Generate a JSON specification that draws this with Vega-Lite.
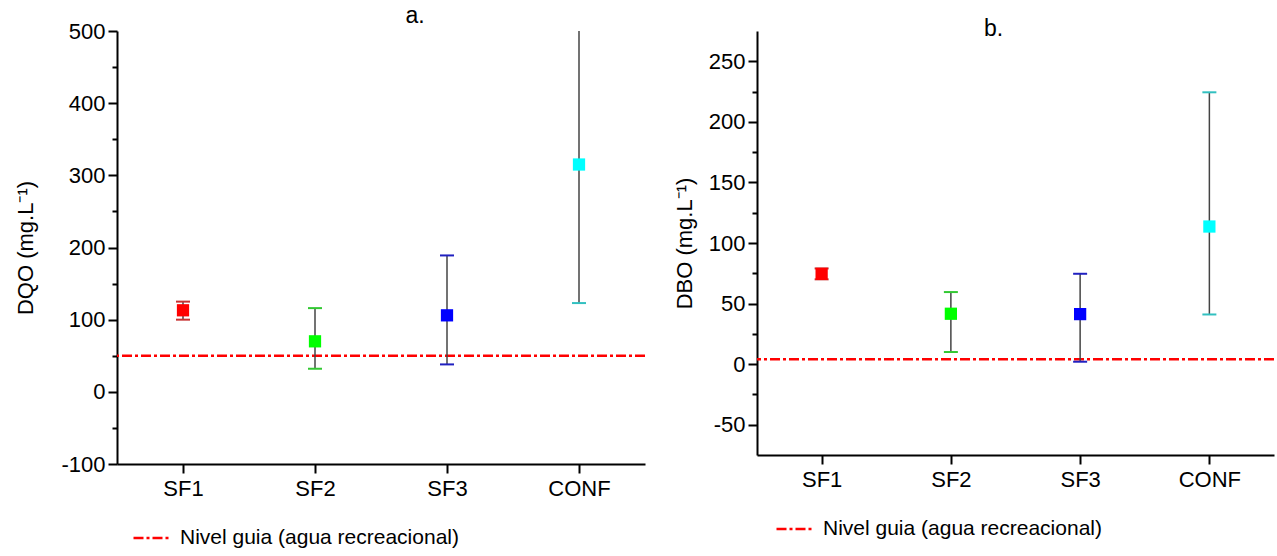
{
  "$schema": "https://vega.github.io/schema/vega-lite/v6.json",
  "background": "white",
  "padding": {"left": 14, "top": 5, "right": 0, "bottom": 0},
  "config": {
    "font": "Liberation Sans",
    "view": {"stroke": null},
    "axis": {"grid": false, "domainColor": "black", "domainWidth": 2, "tickColor": "black", "tickWidth": 2, "labelColor": "black", "titleColor": "black", "labelFontSize": 22, "titleFontSize": 22, "titleFontWeight": "normal", "labelFont": "Liberation Sans", "titleFont": "Liberation Sans"},
    "title": {"fontSize": 23, "fontWeight": "normal", "font": "Liberation Sans", "color": "black"},
    "legend": {"labelFontSize": 21, "labelFont": "Liberation Sans", "labelColor": "black", "labelLimit": 0}
  },
  "datasets": {
    "dqo": [
      {"cat": "SF1", "mean": 113, "low": 100, "high": 125},
      {"cat": "SF2", "mean": 70, "low": 32, "high": 116},
      {"cat": "SF3", "mean": 106, "low": 38, "high": 189},
      {"cat": "CONF", "mean": 315, "low": 123, "high": 510}
    ],
    "dbo": [
      {"cat": "SF1", "mean": 74.5, "low": 70, "high": 79},
      {"cat": "SF2", "mean": 41.6, "low": 10, "high": 59.5},
      {"cat": "SF3", "mean": 41.3, "low": 2, "high": 74.6},
      {"cat": "CONF", "mean": 113.6, "low": 41, "high": 224.4}
    ],
    "minorA": [{"cat": "SF1", "m": -50}, {"cat": "SF1", "m": 50}, {"cat": "SF1", "m": 150}, {"cat": "SF1", "m": 250}, {"cat": "SF1", "m": 350}, {"cat": "SF1", "m": 450}],
    "minorB": [{"cat": "SF1", "m": -25}, {"cat": "SF1", "m": 25}, {"cat": "SF1", "m": 75}, {"cat": "SF1", "m": 125}, {"cat": "SF1", "m": 175}, {"cat": "SF1", "m": 225}]
  },
  "spacing": 26,
  "hconcat": [
    {
      "width": 528,
      "height": 433,
      "title": {"text": "a.", "dx": 34, "offset": -8, "fontSize": 23},
      "layer": [
        {
          "data": {"values": [{"v": 50}]},
          "mark": {"type": "rule", "strokeWidth": 2.5, "strokeDash": [10, 3, 3, 3]},
          "encoding": {
            "y": {"field": "v", "type": "quantitative", "scale": {"domain": [-100, 500], "nice": false, "zero": false}, "axis": null},
            "stroke": {"datum": "Nivel guia (agua recreacional)", "type": "nominal", "scale": {"range": ["#ff0000"]},
              "legend": {"title": null, "orient": "none", "legendX": 15, "legendY": 488, "symbolType": "stroke", "symbolSize": 1225, "symbolStrokeWidth": 2.5, "symbolDash": [10, 3, 3, 3], "labelOffset": 10, "labelFontSize": 21, "labelLimit": 0}}
          }
        },
        {
          "data": {"name": "dqo"},
          "mark": {"type": "rule", "color": "#444444", "strokeWidth": 1.5, "clip": true},
          "encoding": {
            "x": {"field": "cat", "type": "nominal", "sort": ["SF1", "SF2", "SF3", "CONF"], "scale": {"type": "point", "padding": 0.5},
              "axis": {"title": null, "labelAngle": 0, "tickSize": 9, "labelPadding": 5, "labelFontSize": 22}},
            "y": {"field": "low", "type": "quantitative",
              "axis": {"title": "DQO (mg.L⁻¹)", "values": [-100, 0, 100, 200, 300, 400, 500], "tickSize": 9, "labelPadding": 3, "titlePadding": 23, "labelFontSize": 22, "titleFontSize": 22, "labelExpr": "replace(datum.label, '\u2212', '-')"}},
            "y2": {"field": "high"}
          }
        },
        {
          "data": {"name": "dqo"},
          "mark": {"type": "tick", "thickness": 2, "size": 14, "orient": "horizontal", "clip": true, "opacity": 1},
          "encoding": {
            "x": {"field": "cat", "type": "nominal", "sort": ["SF1", "SF2", "SF3", "CONF"]},
            "y": {"field": "low", "type": "quantitative", "axis": null},
            "color": {"field": "cat", "type": "nominal", "scale": {"domain": ["SF1", "SF2", "SF3", "CONF"], "range": ["#c83232", "#32c832", "#2020c0", "#32c0c0"]}, "legend": null}
          }
        },
        {
          "data": {"name": "dqo"},
          "mark": {"type": "tick", "thickness": 2, "size": 14, "orient": "horizontal", "clip": true, "opacity": 1},
          "encoding": {
            "x": {"field": "cat", "type": "nominal", "sort": ["SF1", "SF2", "SF3", "CONF"]},
            "y": {"field": "high", "type": "quantitative", "axis": null},
            "color": {"field": "cat", "type": "nominal", "legend": null}
          }
        },
        {
          "data": {"name": "dqo"},
          "mark": {"type": "square", "size": 150, "opacity": 1},
          "encoding": {
            "x": {"field": "cat", "type": "nominal", "sort": ["SF1", "SF2", "SF3", "CONF"]},
            "y": {"field": "mean", "type": "quantitative", "axis": null},
            "fill": {"field": "cat", "type": "nominal", "scale": {"domain": ["SF1", "SF2", "SF3", "CONF"], "range": ["#ff0000", "#00ff00", "#0000ff", "#00ffff"]}, "legend": null}
          }
        },
        {
          "data": {"name": "minorA"},
          "mark": {"type": "square", "size": 1, "opacity": 0},
          "encoding": {
            "x": {"field": "cat", "type": "nominal", "sort": ["SF1", "SF2", "SF3", "CONF"]},
            "y": {"field": "m", "type": "quantitative",
              "axis": {"title": null, "labels": false, "values": [-50, 50, 150, 250, 350, 450], "tickSize": 5, "domain": false, "orient": "left"}}
          }
        }
      ],
      "resolve": {"axis": {"y": "independent"}}
    },
    {
      "width": 517,
      "height": 424,
      "title": {"text": "b.", "dx": -22, "offset": -10, "fontSize": 23},
      "layer": [
        {
          "data": {"values": [{"v": 4}]},
          "mark": {"type": "rule", "strokeWidth": 2.5, "strokeDash": [10, 3, 3, 3]},
          "encoding": {
            "y": {"field": "v", "type": "quantitative", "scale": {"domain": [-75, 275], "nice": false, "zero": false}, "axis": null},
            "stroke": {"datum": "Nivel guia (agua recreacional)", "type": "nominal", "scale": {"range": ["#ff0000"]},
              "legend": {"title": null, "orient": "none", "legendX": 18, "legendY": 479, "symbolType": "stroke", "symbolSize": 1225, "symbolStrokeWidth": 2.5, "symbolDash": [10, 3, 3, 3], "labelOffset": 10, "labelFontSize": 21, "labelLimit": 0}}
          }
        },
        {
          "data": {"name": "dbo"},
          "mark": {"type": "rule", "color": "#444444", "strokeWidth": 1.5, "clip": true},
          "encoding": {
            "x": {"field": "cat", "type": "nominal", "sort": ["SF1", "SF2", "SF3", "CONF"], "scale": {"type": "point", "padding": 0.5},
              "axis": {"title": null, "labelAngle": 0, "tickSize": 9, "labelPadding": 5, "labelFontSize": 22}},
            "y": {"field": "low", "type": "quantitative",
              "axis": {"title": "DBO (mg.L⁻¹)", "values": [-50, 0, 50, 100, 150, 200, 250], "tickSize": 9, "labelPadding": 3, "titlePadding": 12, "labelFontSize": 22, "titleFontSize": 22, "labelExpr": "replace(datum.label, '\u2212', '-')"}},
            "y2": {"field": "high"}
          }
        },
        {
          "data": {"name": "dbo"},
          "mark": {"type": "tick", "thickness": 2, "size": 14, "orient": "horizontal", "clip": true, "opacity": 1},
          "encoding": {
            "x": {"field": "cat", "type": "nominal", "sort": ["SF1", "SF2", "SF3", "CONF"]},
            "y": {"field": "low", "type": "quantitative", "axis": null},
            "color": {"field": "cat", "type": "nominal", "scale": {"domain": ["SF1", "SF2", "SF3", "CONF"], "range": ["#c83232", "#32c832", "#2020c0", "#32c0c0"]}, "legend": null}
          }
        },
        {
          "data": {"name": "dbo"},
          "mark": {"type": "tick", "thickness": 2, "size": 14, "orient": "horizontal", "clip": true, "opacity": 1},
          "encoding": {
            "x": {"field": "cat", "type": "nominal", "sort": ["SF1", "SF2", "SF3", "CONF"]},
            "y": {"field": "high", "type": "quantitative", "axis": null},
            "color": {"field": "cat", "type": "nominal", "legend": null}
          }
        },
        {
          "data": {"name": "dbo"},
          "mark": {"type": "square", "size": 150, "opacity": 1},
          "encoding": {
            "x": {"field": "cat", "type": "nominal", "sort": ["SF1", "SF2", "SF3", "CONF"]},
            "y": {"field": "mean", "type": "quantitative", "axis": null},
            "fill": {"field": "cat", "type": "nominal", "scale": {"domain": ["SF1", "SF2", "SF3", "CONF"], "range": ["#ff0000", "#00ff00", "#0000ff", "#00ffff"]}, "legend": null}
          }
        },
        {
          "data": {"name": "minorB"},
          "mark": {"type": "square", "size": 1, "opacity": 0},
          "encoding": {
            "x": {"field": "cat", "type": "nominal", "sort": ["SF1", "SF2", "SF3", "CONF"]},
            "y": {"field": "m", "type": "quantitative",
              "axis": {"title": null, "labels": false, "values": [-25, 25, 75, 125, 175, 225], "tickSize": 5, "domain": false, "orient": "left"}}
          }
        }
      ],
      "resolve": {"axis": {"y": "independent"}}
    }
  ],
  "resolve": {"scale": {"color": "independent", "fill": "independent", "stroke": "independent"}, "legend": {"stroke": "independent"}}
}
